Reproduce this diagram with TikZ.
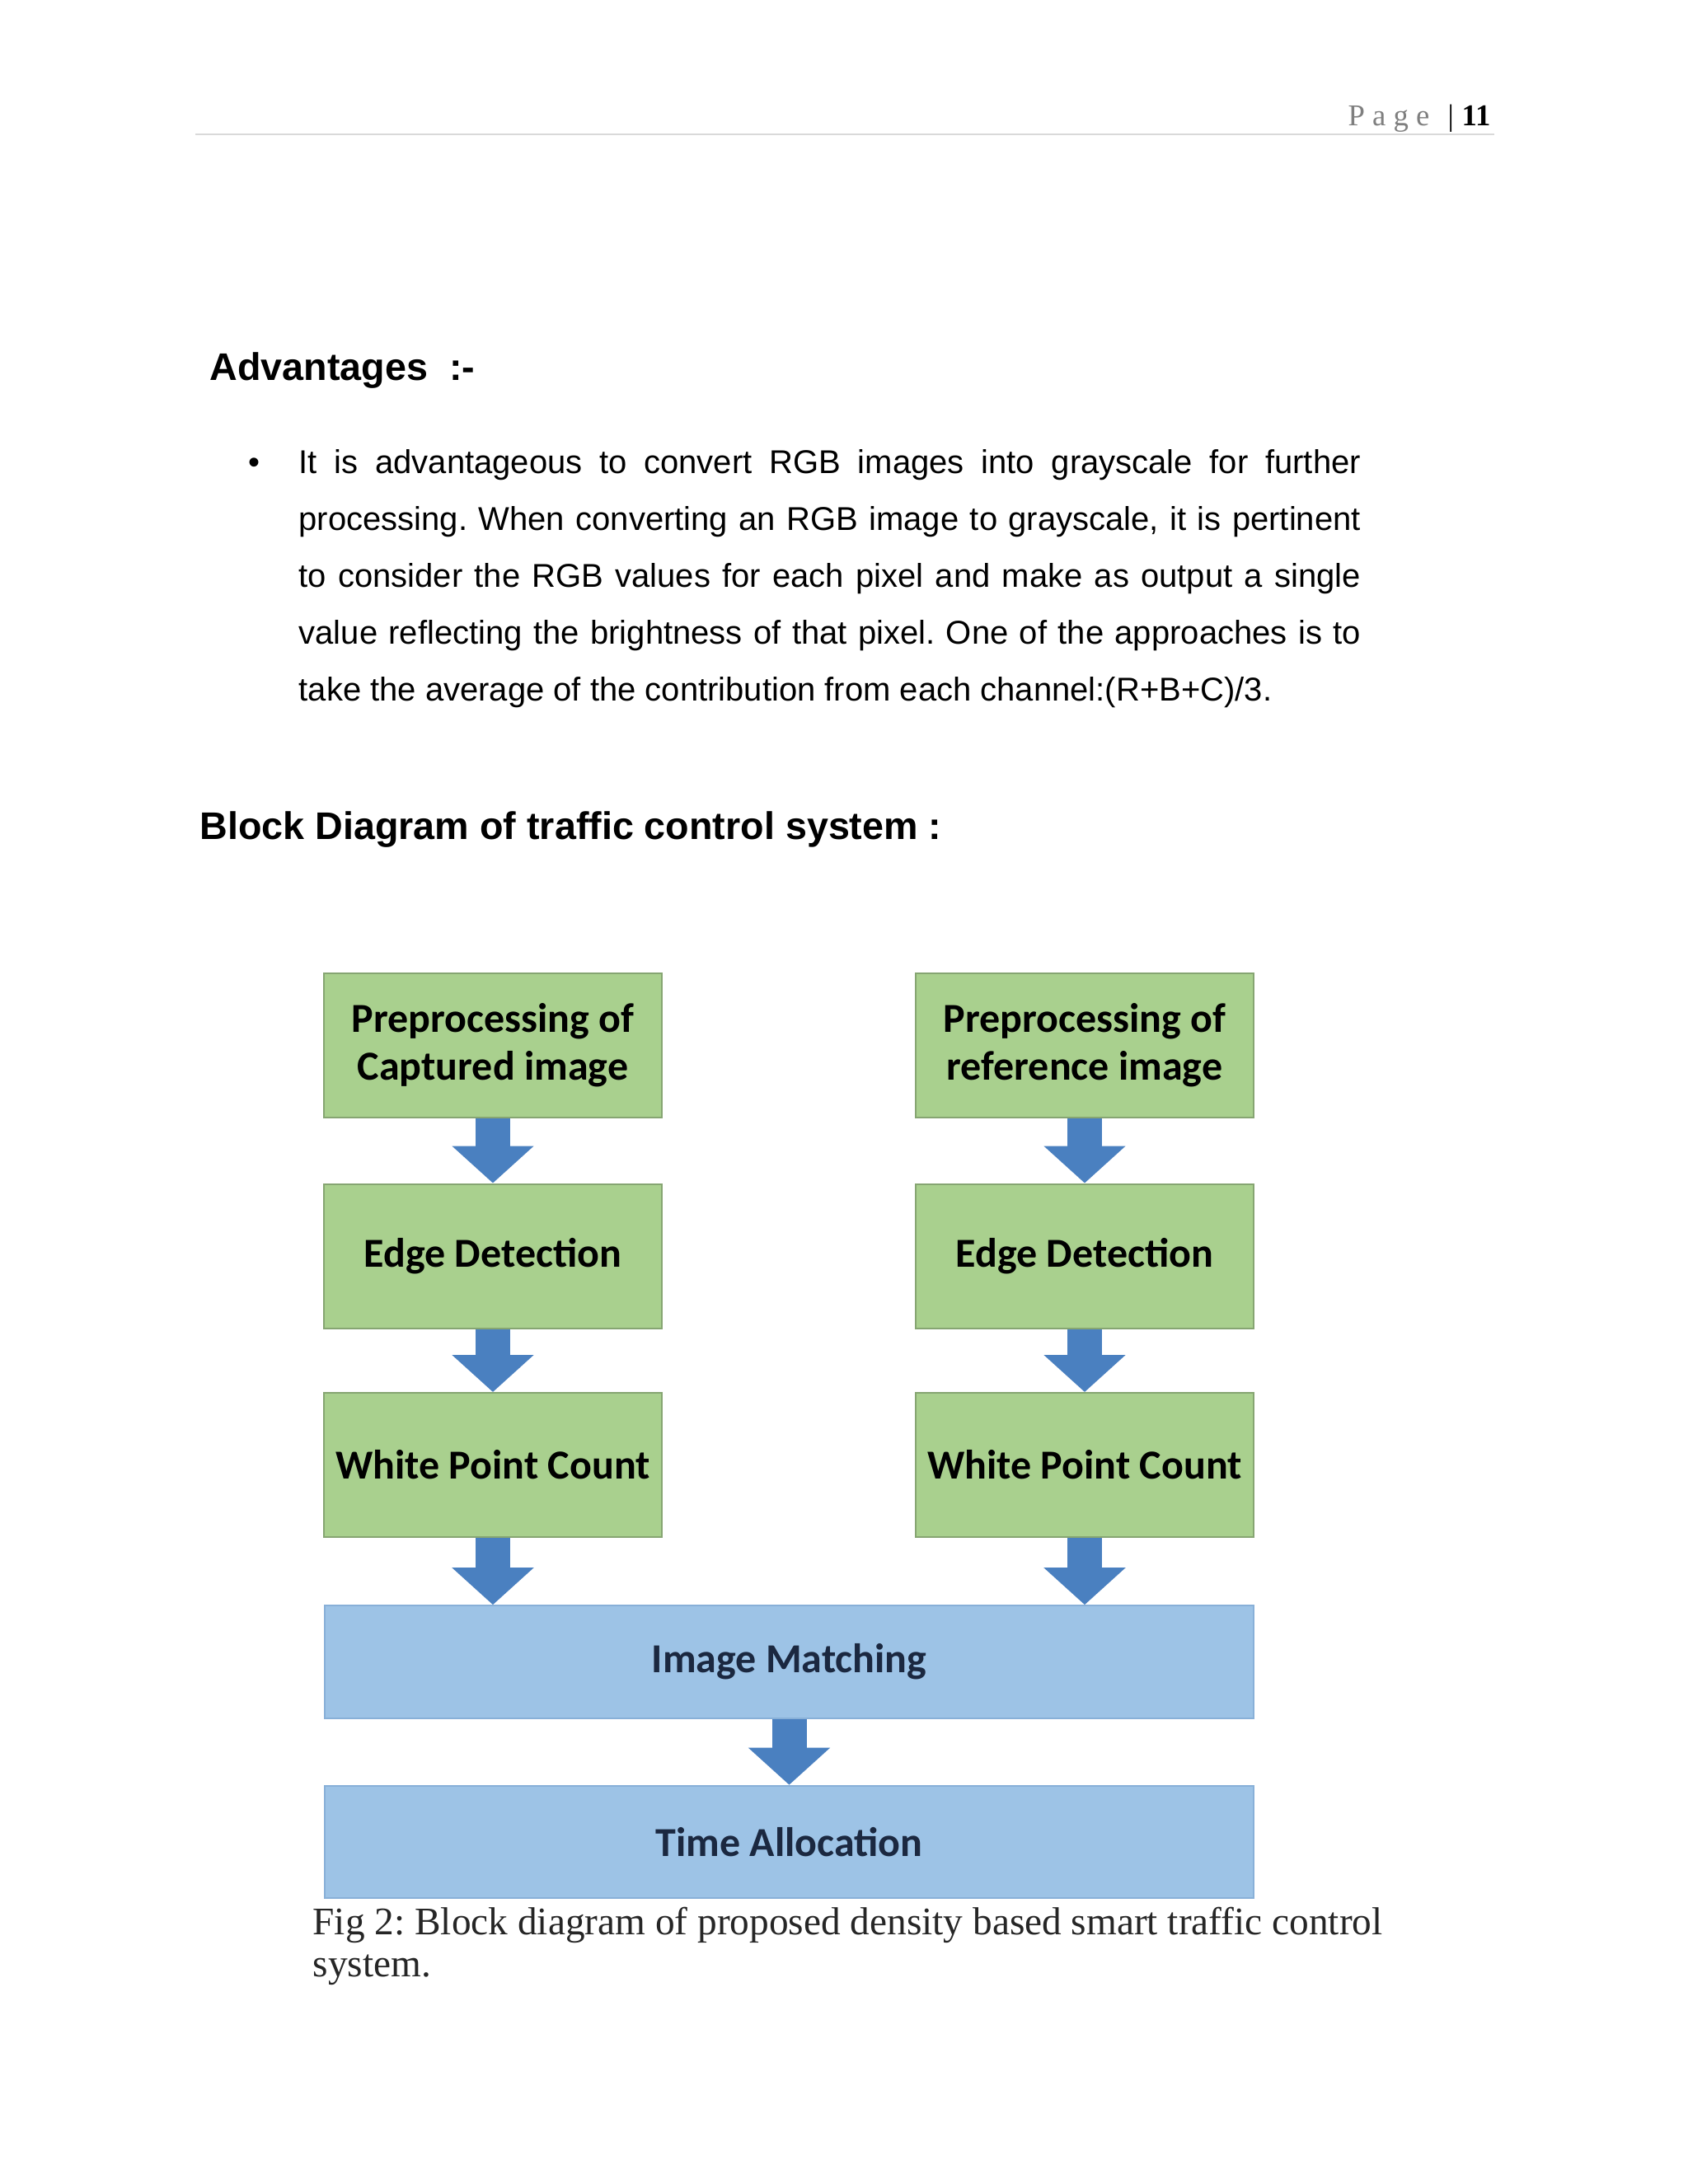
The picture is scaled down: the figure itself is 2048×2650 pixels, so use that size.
\documentclass[tikz,border=0pt]{standalone}
\usepackage{fontspec}
\setmainfont{Liberation Sans}
\newfontfamily\tnr{Liberation Serif}
\newfontfamily\calfont{Carlito}
\usetikzlibrary{arrows.meta}
\definecolor{gfill}{HTML}{A9D08E}
\definecolor{gline}{HTML}{86A572}
\definecolor{bfill}{HTML}{9DC3E6}
\definecolor{bline}{HTML}{88B0D8}
\definecolor{arr}{HTML}{4A80C0}
\definecolor{navy}{HTML}{1B2840}
\definecolor{hgray}{HTML}{7F7F7F}
\definecolor{rulecol}{HTML}{D9D9D9}
\definecolor{capc}{HTML}{262626}
\frenchspacing
\begin{document}
\begin{tikzpicture}[x=0.3pt,y=-0.3pt,
  gbox/.style={draw=gline, fill=gfill, line width=0.6pt, minimum width=123pt, minimum height=52.5pt, inner sep=0pt, align=center, font=\calfont\bfseries\fontsize{15}{17.5}\selectfont, text=black},
  bbox/.style={draw=bline, fill=bfill, line width=0.6pt, minimum width=338pt, minimum height=41pt, inner sep=0pt, font=\calfont\bfseries\fontsize{15}{17.5}\selectfont, text=navy},
  flow/.style={draw=arr, line width=12.6pt, -{Triangle[width=29pt,length=13.5pt]}},
  bodytext/.style={anchor=base west, inner sep=0pt, font=\fontsize{12}{14}\selectfont},
  headtext/.style={anchor=base west, inner sep=0pt, font=\bfseries\fontsize{14}{16}\selectfont},
  captext/.style={anchor=base west, inner sep=0pt, font=\tnr\fontsize{14.2}{16}\selectfont, text=capc},
  hdrtext/.style={anchor=base west, inner sep=0pt, font=\tnr\fontsize{11}{13}\selectfont}
]
\useasboundingbox[fill=white] (0,0) rectangle (2048,2650);

% header
\node[hdrtext, text=hgray] (pg) at (1635,152) {P a g e};
\node[hdrtext, text=black] (bar) at (1756,152) {|};
\node[hdrtext, text=black, font=\tnr\bfseries\fontsize{11}{13}\selectfont] (num) at (1773,152) {11};
\coordinate (rl) at (237,163);
\coordinate (rr) at (1813,163);
\draw[rulecol, line width=0.5pt] (rl) -- (rr);

% headings and text
\node[headtext] (adv) at (254,461) {Advantages\ \ :-};
\node[bodytext] (bul) at (301,574) {•};
\node[bodytext] (l1) at (362,574) {\makebox[386.5pt][s]{It is advantageous to convert RGB images into grayscale for further}};
\node[bodytext] (l2) at (362,643) {\makebox[386.5pt][s]{processing. When converting an RGB image to grayscale, it is pertinent}};
\node[bodytext] (l3) at (362,712) {\makebox[386.5pt][s]{to consider the RGB values for each pixel and make as output a single}};
\node[bodytext] (l4) at (362,781) {\makebox[386.5pt][s]{value reflecting the brightness of that pixel. One of the approaches is to}};
\node[bodytext] (l5) at (362,850) {take the average of the contribution from each channel:(R+B+C)/3.};
\node[headtext] (bd) at (242,1018) {Block Diagram of traffic control system :};

% diagram
\node[gbox] (pl) at (598,1268.5) {Preprocessing of\\Captured image};
\node[gbox] (el) at (598,1524) {Edge Detection};
\node[gbox] (wl) at (598,1777.5) {White Point Count};
\node[gbox] (pr) at (1316,1268.5) {Preprocessing of\\reference image};
\node[gbox] (er) at (1316,1524) {Edge Detection};
\node[gbox] (wr) at (1316,1777.5) {White Point Count};
\node[bbox] (im) at (957.5,2016.5) {Image Matching};
\node[bbox] (ta) at (957.5,2235) {Time Allocation};

\draw[flow] (pl.south) -- (el.north);
\draw[flow] (el.south) -- (wl.north);
\draw[flow] (pr.south) -- (er.north);
\draw[flow] (er.south) -- (wr.north);
\draw[flow] (wl.south) -- (wl.south |- im.north);
\draw[flow] (wr.south) -- (wr.south |- im.north);
\draw[flow] (im.south) -- (ta.north);

% caption
\node[captext] (c1) at (379,2347) {Fig 2: Block diagram of proposed density based smart traffic control};
\node[captext] (c2) at (379,2398) {system.};
\end{tikzpicture}
\end{document}
